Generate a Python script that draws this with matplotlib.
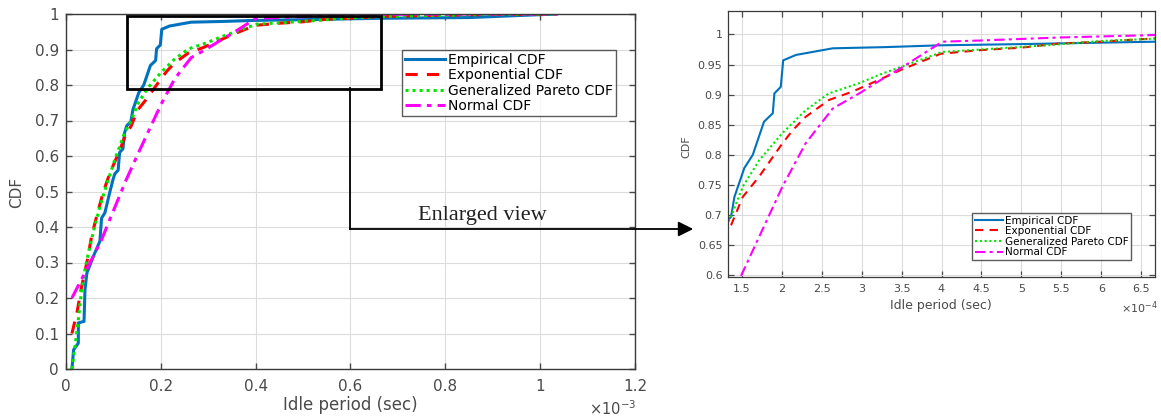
import matplotlib
matplotlib.use("Agg")
import matplotlib.pyplot as plt
from matplotlib.patches import Rectangle
from matplotlib.lines import Line2D

# ---- data (x in units of 1e-4 s) ----
emp_x = [0.125, 0.16, 0.26, 0.26, 0.38, 0.40, 0.44, 0.575, 0.715, 0.75, 0.82, 0.92, 0.99, 1.03,
         1.10, 1.13, 1.20, 1.235, 1.28, 1.368, 1.41, 1.534, 1.64, 1.78, 1.89, 1.91, 1.99, 2.02,
         2.18, 2.64, 3.30, 3.99, 5.0, 6.67, 8.5, 10.35]
emp_y = [0.0, 0.054, 0.073, 0.13, 0.134, 0.223, 0.27, 0.317, 0.36, 0.425, 0.44, 0.496, 0.533, 0.55,
         0.56, 0.61, 0.62, 0.665, 0.685, 0.697, 0.730, 0.778, 0.80, 0.855, 0.869, 0.902, 0.913, 0.957,
         0.966, 0.977, 0.979, 0.982, 0.984, 0.988, 0.99, 1.0]

exp_x = [0.125, 0.23, 0.33, 0.44, 0.54, 0.646, 0.78, 0.92, 1.13, 1.27, 1.368, 1.514, 1.72, 2.01,
         2.14, 2.30, 2.59, 2.885, 3.26, 3.49, 3.99, 4.49, 4.99, 5.48, 5.98, 6.67, 8.5, 10.35]
exp_y = [0.10, 0.158, 0.233, 0.30, 0.374, 0.43, 0.496, 0.55, 0.615, 0.665, 0.683, 0.730, 0.764, 0.819,
         0.841, 0.863, 0.891, 0.905, 0.927, 0.941, 0.968, 0.974, 0.978, 0.985, 0.988, 0.9935, 0.998, 1.0]

gp_x = [0.125, 0.19, 0.26, 0.33, 0.44, 0.575, 0.715, 0.89, 1.03, 1.235, 1.368, 1.514, 1.72, 2.01,
        2.30, 2.59, 2.97, 3.26, 3.49, 4.01, 4.49, 5.32, 5.98, 6.67, 8.5, 10.35]
gp_y = [0.0, 0.064, 0.139, 0.223, 0.308, 0.385, 0.458, 0.533, 0.59, 0.665, 0.697, 0.747, 0.791, 0.836,
        0.874, 0.902, 0.919, 0.935, 0.946, 0.971, 0.975, 0.982, 0.989, 0.993, 0.998, 1.0]

norm_x = [0.125, 0.575, 0.75, 0.92, 1.27, 1.49, 1.72, 2.01, 2.30, 2.64, 2.97, 3.26, 3.49, 4.01,
          4.49, 5.48, 6.67, 8.5, 10.35]
norm_y = [0.2, 0.317, 0.364, 0.42, 0.533, 0.598, 0.664, 0.747, 0.819, 0.877, 0.902, 0.926, 0.944, 0.988,
          0.990, 0.995, 0.999, 1.0, 1.0]

labels = ["Empirical CDF", "Exponential CDF", "Generalized Pareto CDF", "Normal CDF"]
left_xticks = [0, 0.2, 0.4, 0.6, 0.8, 1.0, 1.2]          # x 1e-3
left_yticks = [0, 0.1, 0.2, 0.3, 0.4, 0.5, 0.6, 0.7, 0.8, 0.9, 1.0]
right_xticks = [1.5, 2, 2.5, 3, 3.5, 4, 4.5, 5, 5.5, 6, 6.5]   # x 1e-4
right_yticks = [0.6, 0.65, 0.7, 0.75, 0.8, 0.85, 0.9, 0.95, 1.0]

SCALE = 1e-4
W, H = 1161, 416
plt.rcParams['font.family'] = ['DejaVu Sans']
fig = plt.figure(figsize=(W / 100, H / 100), dpi=100)

TICKC = '#4a4a4a'
SPC = '#3a3a3a'

def px(x0, y0, x1, y1):
    return [x0 / W, 1 - y1 / H, (x1 - x0) / W, (y1 - y0) / H]

def style(ax, fs, lw):
    for s in ax.spines.values():
        s.set_color(SPC)
        s.set_linewidth(lw)
    ax.tick_params(direction='in', top=True, right=True, colors=TICKC, labelsize=fs,
                   length=4, width=lw)
    ax.grid(True, color='#dcdcdc', linewidth=0.8)
    ax.set_axisbelow(True)

colors = ['#0072BD', '#FF0000', '#00E600', '#FF00FF']

def draw(ax, lw):
    xs = [[v * SCALE for v in a] for a in (emp_x, exp_x, gp_x, norm_x)]
    ys = [emp_y, exp_y, gp_y, norm_y]
    ax.plot(xs[0], ys[0], color=colors[0], lw=lw, label=labels[0])
    ax.plot(xs[1], ys[1], color=colors[1], lw=lw, ls=(0, (4, 3)), label=labels[1])
    ax.plot(xs[2], ys[2], color=colors[2], lw=lw, ls=(0, (1, 1.3)), label=labels[2])
    ax.plot(xs[3], ys[3], color=colors[3], lw=lw, ls=(0, (5, 2, 1.5, 2)), label=labels[3])

# ---- left axes ----
axL = fig.add_axes(px(66, 14, 635, 369))
draw(axL, 2.2)
axL.set_xlim(0, 1.2e-3)
axL.set_ylim(0, 1)
axL.set_xticks([v * 1e-3 for v in left_xticks])
axL.set_xticklabels([f"{v:g}" for v in left_xticks])
axL.set_yticks(left_yticks)
axL.set_yticklabels([f"{v:g}" for v in left_yticks])
style(axL, 11, 1.0)
axL.tick_params(axis='x', pad=7)
axL.tick_params(axis='y', pad=5)
legL = axL.legend(loc='upper left', bbox_to_anchor=((402 - 66) / 569, 1 - (50 - 14) / 355),
                  fontsize=10, frameon=True, fancybox=False, edgecolor='#333333',
                  handlelength=2.9, handletextpad=0.2, borderpad=0.2, labelspacing=0.1,
                  borderaxespad=0)
legL.get_frame().set_linewidth(1.0)
axL.add_patch(Rectangle((0.129e-3, 0.79), 0.535e-3, 0.205, fill=False, ec='black', lw=2, zorder=5))
fig.text(350 / W, 1 - 405 / H, "Idle period (sec)", ha='center', va='center', fontsize=12, color=TICKC)
fig.text(17 / W, 1 - 192 / H, "CDF", ha='center', va='center', rotation=90, fontsize=11, color=TICKC)
fig.text(589 / W, 1 - 409 / H, r"$\times10^{-3}$", ha='left', va='center', fontsize=10.5, color=TICKC)

# ---- right axes ----
axR = fig.add_axes(px(728, 11, 1155, 277))
draw(axR, 1.5)
axR.set_xlim(1.33e-4, 6.67e-4)
axR.set_ylim(0.597, 1.039)
axR.set_xticks([v * SCALE for v in right_xticks])
axR.set_xticklabels([f"{v:g}" for v in right_xticks])
axR.set_yticks(right_yticks)
axR.set_yticklabels([f"{v:g}" for v in right_yticks])
style(axR, 8, 0.9)
axR.tick_params(axis='x', pad=5)
axR.tick_params(axis='y', pad=4)
legR = axR.legend(loc='upper left', bbox_to_anchor=((972 - 728) / 427, 1 - (213 - 11) / 266),
                  fontsize=7.5, frameon=True, fancybox=False, edgecolor='#333333',
                  handlelength=2.7, handletextpad=0.2, borderpad=0.25, labelspacing=0.05,
                  borderaxespad=0)
legR.get_frame().set_linewidth(1.0)
fig.text(941 / W, 1 - 305 / H, "Idle period (sec)", ha='center', va='center', fontsize=9, color=TICKC)
fig.text(686 / W, 1 - 147 / H, "CDF", ha='center', va='center', rotation=90, fontsize=8, color=TICKC)
fig.text(1121 / W, 1 - 308 / H, r"$\times10^{-4}$", ha='left', va='center', fontsize=8, color=TICKC)

# ---- connector & arrow ----
fig.add_artist(Line2D([350 / W, 350 / W], [1 - 88 / H, 1 - 229 / H], color='black', lw=1.3))
fig.add_artist(Line2D([350 / W, 684 / W], [1 - 229 / H, 1 - 229 / H], color='black', lw=1.3))
axL.annotate("", xy=(696, H - 229), xycoords='figure pixels',
             xytext=(680, H - 229), textcoords='figure pixels',
             arrowprops=dict(arrowstyle='-|>,head_length=0.9,head_width=0.45', color='black', lw=1.3),
             annotation_clip=False)
fig.text(418 / W, 1 - 220 / H, "Enlarged view", ha='left', va='baseline', fontsize=16,
         family=['Liberation Serif', 'DejaVu Serif'], color='#222222')

fig.savefig("out.png", dpi=100, facecolor='white')
